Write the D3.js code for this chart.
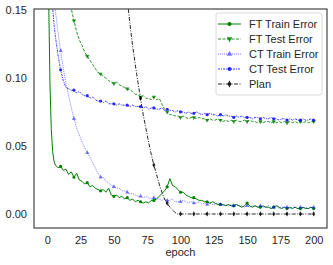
<!DOCTYPE html>
<html>
<head>
<meta charset="utf-8">
<script src="https://cdn.jsdelivr.net/npm/d3@7"></script>
<style>
  body { margin: 0; background: #fff; }
  text { font-family: "Liberation Sans", Arial, sans-serif; fill: #262626; }
</style>
</head>
<body>
<div id="chart"></div>
<script>
// epochs sampled (every 2 after the first few)
const epochs = [0, 1, 2, 3, 4, 5, 6, 8,
  10, 12, 14, 16, 18, 20, 22, 24, 26, 28, 30, 32, 34, 36, 38, 40, 42, 44, 46, 48,
  50, 52, 54, 56, 58, 60, 62, 64, 66, 68, 70, 72, 74, 76, 78, 80, 82, 84, 86, 88,
  90, 92, 94, 96, 98, 100, 102, 104, 106, 108, 110, 112, 114, 116, 118, 120, 122, 124, 126, 128,
  130, 132, 134, 136, 138, 140, 142, 144, 146, 148, 150, 152, 154, 156, 158, 160, 162, 164, 166, 168,
  170, 172, 174, 176, 178, 180, 182, 184, 186, 188, 190, 192, 194, 196, 198, 200];

const ftTrain = [0.600, 0.160, 0.095, 0.062, 0.046, 0.039, 0.036, 0.034,
  0.035, 0.032, 0.033, 0.029, 0.031, 0.027, 0.030, 0.025, 0.024, 0.022,
  0.023, 0.020, 0.021, 0.019, 0.018, 0.017, 0.018, 0.016, 0.019, 0.014,
  0.013, 0.014, 0.012, 0.013, 0.011, 0.012, 0.010, 0.011, 0.009, 0.010,
  0.009, 0.008, 0.009, 0.008, 0.010, 0.010, 0.011, 0.013, 0.015, 0.017,
  0.020, 0.026, 0.021, 0.020, 0.018, 0.016, 0.016, 0.014, 0.013, 0.012,
  0.012, 0.011, 0.010, 0.010, 0.009, 0.009, 0.008, 0.009, 0.008, 0.007,
  0.007, 0.007, 0.006, 0.007, 0.006, 0.006, 0.007, 0.006, 0.005, 0.006,
  0.008, 0.006, 0.005, 0.006, 0.005, 0.005, 0.006, 0.005, 0.005, 0.004,
  0.005, 0.006, 0.005, 0.004, 0.005, 0.004, 0.005, 0.004, 0.005, 0.004,
  0.004, 0.005, 0.004, 0.004, 0.005, 0.004];

const ftTest = [0.500, 0.460, 0.420, 0.390, 0.360, 0.330, 0.310, 0.260,
  0.220, 0.195, 0.178, 0.162, 0.151, 0.142, 0.134, 0.128, 0.124, 0.119,
  0.116, 0.113, 0.110, 0.107, 0.104, 0.103, 0.101, 0.100, 0.098, 0.097,
  0.096, 0.097, 0.095, 0.094, 0.093, 0.092, 0.091, 0.090, 0.088, 0.088,
  0.086, 0.087, 0.085, 0.085, 0.084, 0.086, 0.084, 0.085, 0.081, 0.077,
  0.075, 0.073, 0.073, 0.072, 0.072, 0.071, 0.072, 0.071, 0.070, 0.071,
  0.071, 0.070, 0.071, 0.070, 0.070, 0.069, 0.070, 0.069, 0.069, 0.070,
  0.069, 0.068, 0.069, 0.068, 0.069, 0.068, 0.069, 0.068, 0.068, 0.069,
  0.068, 0.069, 0.068, 0.068, 0.067, 0.068, 0.067, 0.068, 0.068, 0.067,
  0.068, 0.067, 0.068, 0.067, 0.068, 0.067, 0.068, 0.067, 0.068, 0.067,
  0.068, 0.067, 0.068, 0.067, 0.068, 0.068];

const ctTrain = [0.500, 0.360, 0.270, 0.210, 0.180, 0.162, 0.150, 0.134,
  0.120, 0.107, 0.096, 0.087, 0.078, 0.070, 0.063, 0.058, 0.053, 0.049,
  0.045, 0.042, 0.038, 0.034, 0.030, 0.027, 0.027, 0.024, 0.023, 0.021,
  0.020, 0.019, 0.019, 0.017, 0.017, 0.016, 0.015, 0.015, 0.014, 0.013,
  0.013, 0.012, 0.013, 0.012, 0.011, 0.012, 0.011, 0.011, 0.010, 0.011,
  0.010, 0.010, 0.011, 0.009, 0.009, 0.009, 0.010, 0.009, 0.008, 0.009,
  0.008, 0.008, 0.009, 0.007, 0.008, 0.007, 0.008, 0.007, 0.007, 0.008,
  0.007, 0.006, 0.007, 0.006, 0.007, 0.006, 0.007, 0.006, 0.006, 0.005,
  0.006, 0.005, 0.006, 0.006, 0.005, 0.006, 0.005, 0.005, 0.006, 0.005,
  0.005, 0.006, 0.004, 0.005, 0.005, 0.005, 0.004, 0.005, 0.005, 0.004,
  0.005, 0.004, 0.005, 0.004, 0.005, 0.005];

const ctTest = [0.400, 0.300, 0.220, 0.175, 0.152, 0.140, 0.131, 0.117,
  0.106, 0.098, 0.093, 0.092, 0.091, 0.091, 0.089, 0.090, 0.088, 0.087,
  0.087, 0.085, 0.086, 0.084, 0.083, 0.083, 0.082, 0.083, 0.081, 0.081,
  0.081, 0.080, 0.081, 0.080, 0.080, 0.080, 0.079, 0.080, 0.079, 0.079,
  0.079, 0.078, 0.079, 0.077, 0.078, 0.078, 0.077, 0.077, 0.078, 0.076,
  0.077, 0.076, 0.076, 0.075, 0.076, 0.075, 0.075, 0.074, 0.075, 0.074,
  0.074, 0.075, 0.074, 0.073, 0.074, 0.073, 0.074, 0.073, 0.073, 0.072,
  0.073, 0.072, 0.073, 0.072, 0.072, 0.071, 0.072, 0.071, 0.072, 0.071,
  0.071, 0.071, 0.070, 0.071, 0.071, 0.070, 0.071, 0.070, 0.070, 0.071,
  0.070, 0.070, 0.069, 0.070, 0.070, 0.069, 0.070, 0.069, 0.070, 0.069,
  0.069, 0.070, 0.069, 0.069, 0.070, 0.069];

const plan = [0.700, 0.690, 0.680, 0.670, 0.660, 0.650, 0.640, 0.620,
  0.600, 0.580, 0.560, 0.540, 0.520, 0.500, 0.480, 0.460, 0.440, 0.420,
  0.400, 0.380, 0.360, 0.340, 0.320, 0.300, 0.280, 0.260, 0.240, 0.220,
  0.205, 0.195, 0.185, 0.175, 0.167, 0.158, 0.140, 0.124, 0.110, 0.097,
  0.085, 0.073, 0.063, 0.053, 0.044, 0.036, 0.029, 0.022, 0.016, 0.011,
  0.008, 0.005, 0.003, 0.001, 0.000, 0.000, 0.000, 0.000, 0.000, 0.000,
  0.000, 0.000, 0.000, 0.000, 0.000, 0.000, 0.000, 0.000, 0.000, 0.000,
  0.000, 0.000, 0.000, 0.000, 0.000, 0.000, 0.000, 0.000, 0.000, 0.000,
  0.000, 0.000, 0.000, 0.000, 0.000, 0.000, 0.000, 0.000, 0.000, 0.000,
  0.000, 0.000, 0.000, 0.000, 0.000, 0.000, 0.000, 0.000, 0.000, 0.000,
  0.000, 0.000, 0.000, 0.000, 0.000, 0.000];

const xTicks = [0, 25, 50, 75, 100, 125, 150, 175, 200];
const yTicks = [0, 0.05, 0.10, 0.15];

const series = [
  { name: "FT Train Error", values: ftTrain, color: "#008000", opacity: 1, dash: null, marker: d3.symbolCircle, flip: false },
  { name: "FT Test Error", values: ftTest, color: "#008000", opacity: 0.85, dash: "3,1.5", marker: d3.symbolTriangle, flip: true },
  { name: "CT Train Error", values: ctTrain, color: "#0000ff", opacity: 0.5, dash: "1,1", marker: d3.symbolTriangle, flip: false },
  { name: "CT Test Error", values: ctTest, color: "#0000ff", opacity: 0.8, dash: "2,1,1,1", marker: d3.symbolCircle, flip: false },
  { name: "Plan", values: plan, color: "#000000", opacity: 0.85, dash: "4,1.5,1,1.5", marker: d3.symbolDiamond, flip: false },
];

const W = 333, H = 265;
const M = { left: 34, right: 6, top: 9, bottom: 37 };

const svg = d3.select("#chart").append("svg").attr("width", W).attr("height", H);

const x = d3.scaleLinear().domain([-10, 210]).range([M.left, W - M.right]);
const y = d3.scaleLinear().domain([-0.0103, 0.1507]).range([H - M.bottom, M.top]);

svg.append("clipPath").attr("id", "clip")
  .append("rect")
  .attr("x", M.left).attr("y", M.top)
  .attr("width", W - M.left - M.right).attr("height", H - M.top - M.bottom);

// axes: labels only, no tick marks
const xAxis = svg.append("g")
  .attr("transform", `translate(0,${H - M.bottom})`)
  .call(d3.axisBottom(x).tickValues(xTicks).tickSize(0).tickPadding(8));
const yAxis = svg.append("g")
  .attr("transform", `translate(${M.left},0)`)
  .call(d3.axisLeft(y).tickValues(yTicks).tickFormat(d3.format(".2f")).tickSize(0).tickPadding(7));
[xAxis, yAxis].forEach((g) => {
  g.select(".domain").remove();
  g.selectAll("text").style("font-size", "11px").attr("fill", "#262626");
});

svg.append("text")
  .attr("x", x(100)).attr("y", 256)
  .attr("text-anchor", "middle")
  .style("font-size", "11px")
  .text("epoch");

const line = d3.line()
  .x((d) => x(d[0]))
  .y((d) => y(d[1]));

const plotG = svg.append("g").attr("clip-path", "url(#clip)");

series.forEach((s) => {
  const pts = epochs.map((e, i) => [e, s.values[i]]);
  const sym = d3.symbol().type(s.marker).size(8);
  const rot = s.flip ? " rotate(180)" : "";

  plotG.append("path")
    .datum(pts)
    .attr("fill", "none")
    .attr("stroke", s.color)
    .attr("stroke-opacity", s.opacity)
    .attr("stroke-width", 1)
    .attr("stroke-dasharray", s.dash)
    .attr("d", line);

  // one marker every 10 epochs
  plotG.selectAll(null)
    .data(pts.filter((d) => d[0] % 10 === 0))
    .enter()
    .append("path")
    .attr("d", sym)
    .attr("transform", (d) => `translate(${x(d[0])},${y(d[1])})${rot}`)
    .attr("fill", s.color)
    .attr("fill-opacity", s.opacity);
});

// frame
svg.append("rect")
  .attr("x", M.left).attr("y", M.top)
  .attr("width", W - M.left - M.right).attr("height", H - M.top - M.bottom)
  .attr("fill", "none")
  .attr("stroke", "#333")
  .attr("stroke-width", 1.1);

// legend
const legend = svg.append("g").attr("transform", "translate(216,13)");
legend.append("rect")
  .attr("width", 106).attr("height", 82)
  .attr("rx", 2)
  .attr("fill", "#fff").attr("fill-opacity", 0.9)
  .attr("stroke", "#d0d0d0").attr("stroke-width", 0.8);

series.forEach((s, i) => {
  const row = legend.append("g").attr("transform", `translate(0,${11 + i * 15})`);
  row.append("line")
    .attr("x1", 2).attr("x2", 25)
    .attr("stroke", s.color)
    .attr("stroke-opacity", s.opacity)
    .attr("stroke-width", 1)
    .attr("stroke-dasharray", s.dash);
  row.append("path")
    .attr("d", d3.symbol().type(s.marker).size(14)())
    .attr("transform", `translate(13.5,0)${s.flip ? " rotate(180)" : ""}`)
    .attr("fill", s.color)
    .attr("fill-opacity", s.opacity);
  row.append("text")
    .attr("x", 33).attr("y", 4)
    .style("font-size", "11px")
    .text(s.name);
});
</script>
</body>
</html>
